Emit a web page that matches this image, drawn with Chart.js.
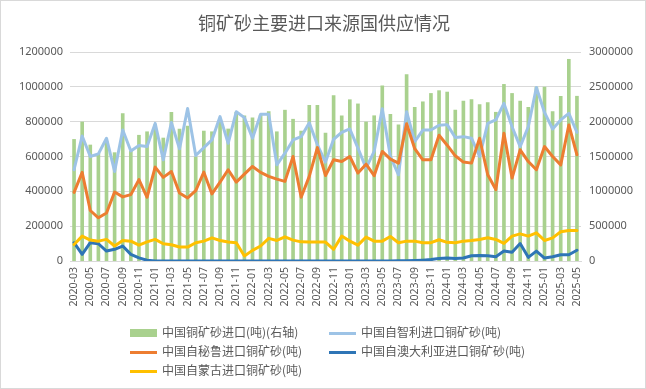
<!DOCTYPE html>
<html><head><meta charset="utf-8">
<script src="https://cdn.jsdelivr.net/npm/chart.js@4/dist/chart.umd.min.js"></script>
<style>
html,body{margin:0;padding:0;background:#fff;}
#wrap{position:relative;width:646px;height:389px;box-sizing:border-box;border:1px solid #d9d9d9;overflow:hidden;}
#title{position:absolute;left:0;top:8px;width:646px;text-align:center;font-family:"Noto Sans CJK SC";font-size:18px;color:#595959;}
canvas{position:absolute;left:0;top:0;}
.lg{position:absolute;font-family:"Noto Sans CJK SC";font-size:12px;color:#595959;line-height:14px;white-space:nowrap;}
.sw{position:absolute;}
</style></head>
<body>
<div id="wrap">
<canvas id="c" width="646" height="389"></canvas>
<div id="title">铜矿砂主要进口来源国供应情况</div>
<div id="legend"></div>
</div>
<script>
const categories = ["2020-03","2020-04","2020-05","2020-06","2020-07","2020-08","2020-09","2020-10","2020-11","2020-12",
"2021-01","2021-02","2021-03","2021-04","2021-05","2021-06","2021-07","2021-08","2021-09","2021-10","2021-11","2021-12",
"2022-01","2022-02","2022-03","2022-04","2022-05","2022-06","2022-07","2022-08","2022-09","2022-10","2022-11","2022-12",
"2023-01","2023-02","2023-03","2023-04","2023-05","2023-06","2023-07","2023-08","2023-09","2023-10","2023-11","2023-12",
"2024-01","2024-02","2024-03","2024-04","2024-05","2024-06","2024-07","2024-08","2024-09","2024-10","2024-11","2024-12",
"2025-01","2025-02","2025-03","2025-04","2025-05"];
const chinaTotal = [1750000,2000000,1670000,1550000,1720000,1560000,2120000,1580000,1810000,1860000,
1960000,1770000,2140000,1900000,1940000,1500000,1870000,1860000,2010000,1900000,2140000,2090000,
2060000,2100000,2150000,1860000,2170000,2040000,1870000,2240000,2240000,1840000,2380000,2090000,
2320000,2260000,2000000,2090000,2520000,2110000,1960000,2680000,2210000,2290000,2410000,2450000,
2430000,2170000,2300000,2320000,2250000,2280000,2140000,2540000,2410000,2300000,2210000,2500000,
2500000,2150000,2370000,2900000,2370000];
const fromChile = [524000,718000,600000,615000,705000,514000,752000,632000,663000,657000,
790000,581000,795000,644000,876000,606000,651000,695000,829000,676000,857000,823000,
705000,842000,842000,552000,619000,695000,714000,794000,667000,568000,699000,739000,
758000,648000,533000,629000,874000,600000,495000,857000,686000,752000,752000,779000,
783000,709000,714000,705000,600000,790000,810000,905000,771000,657000,771000,996000,
853000,758000,810000,848000,739000];
const fromPeru = [394000,509000,290000,248000,276000,396000,368000,381000,467000,366000,
539000,480000,514000,390000,362000,404000,510000,385000,453000,524000,453000,499000,
543000,509000,486000,470000,457000,600000,366000,486000,651000,491000,581000,571000,
600000,505000,556000,490000,629000,585000,562000,788000,645000,581000,581000,722000,
665000,604000,568000,562000,705000,495000,410000,733000,476000,638000,571000,524000,
657000,600000,552000,781000,610000];
const fromAustralia = [105000,38000,105000,99000,57000,67000,86000,38000,18000,4000,
0,0,0,0,0,0,0,0,0,0,0,0,
0,0,0,0,0,0,0,0,0,0,0,0,
0,0,0,0,0,0,1000,2000,3000,5000,8000,15000,
17000,14000,17000,30000,32000,30000,25000,57000,50000,100000,21000,57000,
17000,24000,36000,36000,62000];
const fromMongolia = [95000,143000,120000,114000,124000,86000,118000,114000,91000,110000,
124000,99000,93000,80000,80000,105000,114000,133000,118000,109000,105000,29000,
61000,86000,130000,118000,139000,120000,110000,109000,109000,109000,67000,143000,
114000,91000,137000,114000,114000,141000,105000,114000,114000,105000,105000,122000,
107000,105000,114000,118000,124000,133000,124000,101000,143000,156000,143000,162000,
118000,133000,168000,175000,175000];
const leftTicks = [0,200000,400000,600000,800000,1000000,1200000];
const rightTicks = [0,500000,1000000,1500000,2000000,2500000,3000000];
const seriesNames = ["中国铜矿砂进口(吨)(右轴)","中国自智利进口铜矿砂(吨)","中国自秘鲁进口铜矿砂(吨)","中国自澳大利亚进口铜矿砂(吨)","中国自蒙古进口铜矿砂(吨)"];
const colors = ["#A9D18E","#9DC3E6","#ED7D31","#2E75B6","#FFC000"];

const lineDs = (label, data, color, order) => ({type:'line', label, data, borderColor:color, backgroundColor:color,
  borderWidth:3, pointRadius:0, tension:0, yAxisID:'y', order, borderJoinStyle:'round', borderCapStyle:'round'});

new Chart(document.getElementById('c'), {
  data: {
    labels: categories,
    datasets: [
      {type:'bar', label:seriesNames[0], data:chinaTotal, backgroundColor:colors[0], yAxisID:'y1', order:10,
       categoryPercentage:1, barPercentage:0.45},
      lineDs(seriesNames[1], fromChile, colors[1], 4),
      lineDs(seriesNames[2], fromPeru, colors[2], 3),
      lineDs(seriesNames[3], fromAustralia, colors[3], 2),
      lineDs(seriesNames[4], fromMongolia, colors[4], 1)
    ]
  },
  options: {
    responsive:false, animation:false,
    layout:{padding:{left:0,right:0,top:51,bottom:79}},
    plugins:{legend:{display:false}, title:{display:false}, tooltip:{enabled:false}},
    scales:{
      x:{type:'category', offset:true,
         grid:{display:false, drawTicks:false},
         border:{display:true, color:'#d9d9d9'},
         ticks:{autoSkip:false, maxRotation:90, minRotation:90, padding:6, color:'#595959',
           font:{family:'Noto Sans', size:10.5},
           callback:function(v,i){return i%2===0 ? categories[i] : '';}},
         afterFit:function(s){s.height=50;}},
      y:{position:'left', min:0, max:1200000,
         afterBuildTicks:function(s){s.ticks=leftTicks.map(v=>({value:v}));},
         grid:{color:'#d9d9d9', drawTicks:false},
         border:{display:false},
         ticks:{padding:7, color:'#595959', font:{family:'Noto Sans', size:11},
           callback:function(v){return String(v);}},
         afterFit:function(s){s.width=69;}},
      y1:{position:'right', min:0, max:3000000,
         afterBuildTicks:function(s){s.ticks=rightTicks.map(v=>({value:v}));},
         grid:{display:false, drawTicks:false},
         border:{display:false},
         ticks:{padding:8, color:'#595959', font:{family:'Noto Sans', size:11},
           callback:function(v){return String(v);}},
         afterFit:function(s){s.width=66;}}
    }
  }
});

// HTML legend
const lg = document.getElementById('legend');
const pos = [[129,332],[328,332],[129,351],[328,351],[129,370]];
seriesNames.forEach((n,i)=>{
  const [x,y]=pos[i];
  const sw=document.createElement('div'); sw.className='sw';
  if(i===0){sw.style.cssText=`left:${x}px;top:${y-4}px;width:27px;height:8px;background:${colors[i]}`;}
  else {sw.style.cssText=`left:${x}px;top:${y-1.5}px;width:27px;height:3px;background:${colors[i]}`;}
  lg.appendChild(sw);
  const t=document.createElement('div'); t.className='lg'; t.textContent=n;
  t.style.left=(x+32)+'px'; t.style.top=(y-8)+'px';
  lg.appendChild(t);
});
</script>
</body></html>
